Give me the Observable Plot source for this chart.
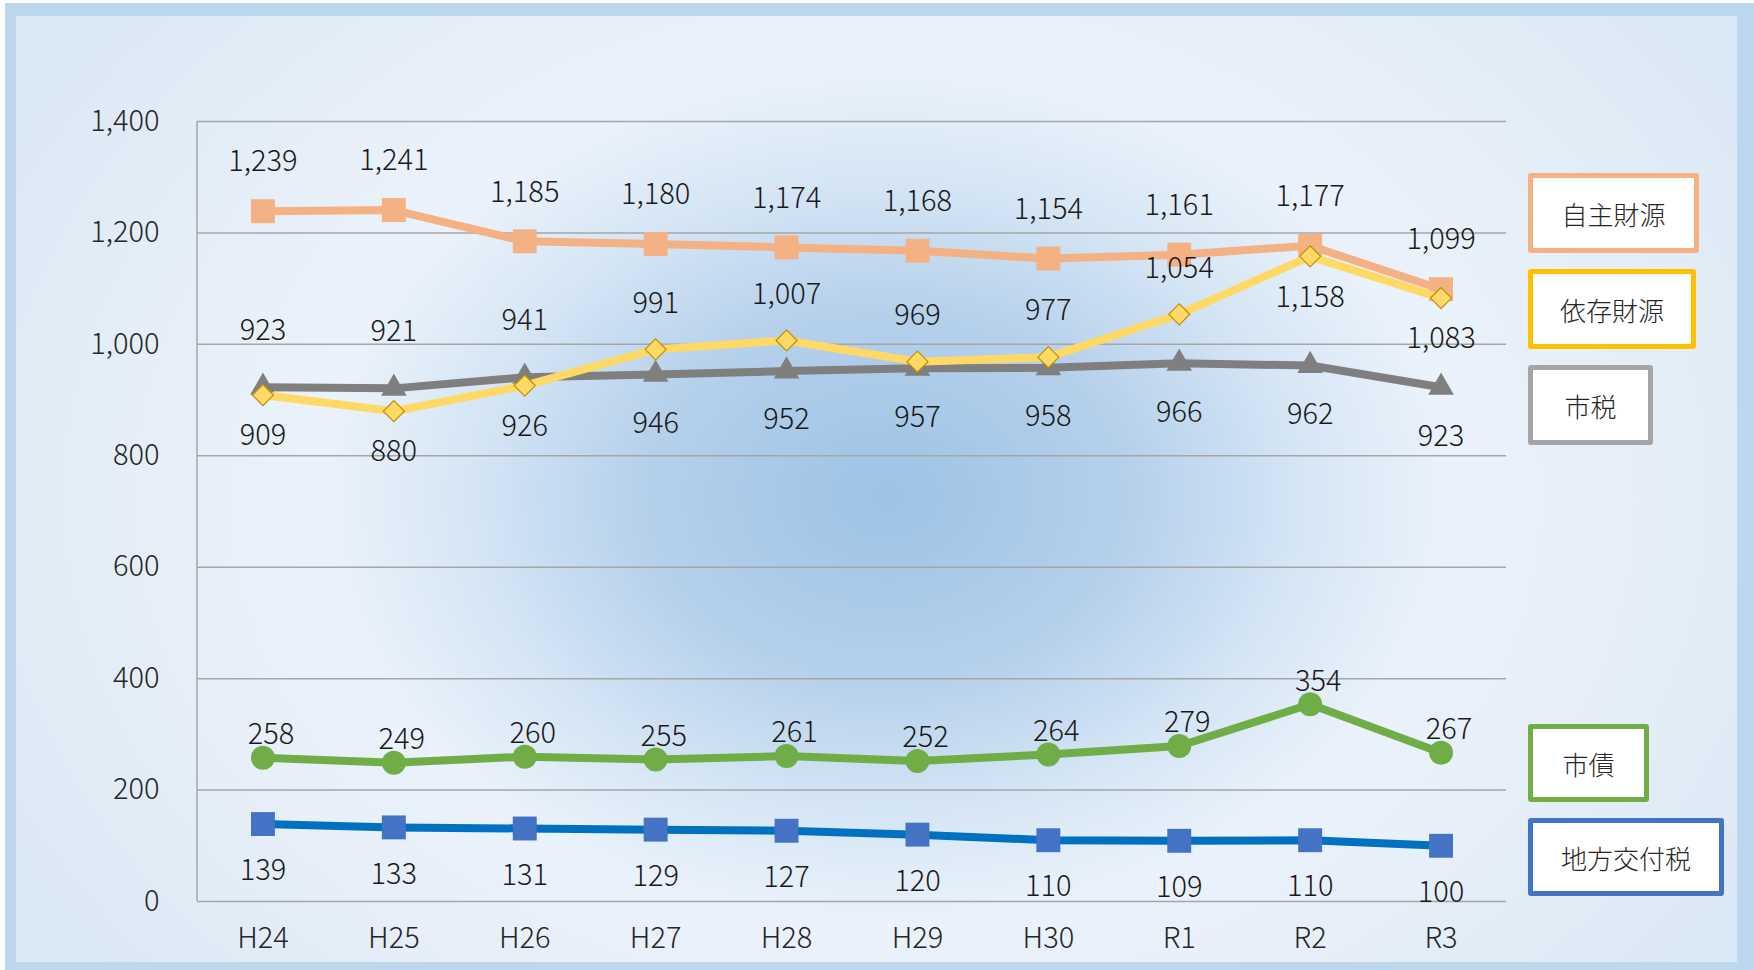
<!DOCTYPE html>
<html>
<head>
<meta charset="utf-8">
<script src="https://cdn.jsdelivr.net/npm/d3@7"></script>
<script src="https://cdn.jsdelivr.net/npm/@observablehq/plot@0.6"></script>
<style>
  html, body { margin: 0; padding: 0; background: #ffffff; }
  #frame {
    position: absolute; left: 5px; top: 3px; width: 1749px; height: 967px;
    background: #bdd7ee;
  }
  #panel {
    position: absolute; left: 16px; top: 16px; width: 1721px; height: 946px;
    background: radial-gradient(ellipse 1000px 760px at 870px 480px,
      #9dc3e6 0%, #b5d0eb 24%, #d6e6f5 42%, #eaf2fb 56%, #e6eff8 75%, #dbe8f5 100%);
  }
  #chart { position: absolute; left: 0; top: 0; width: 1754px; height: 970px; }
  #chart text { font-weight: 300; }
  .legend {
    position: absolute; box-sizing: border-box; background: #ffffff;
    border-width: 5px; border-style: solid; border-radius: 3px;
    display: flex; align-items: center; justify-content: center;
    font-family: "Noto Sans CJK JP", sans-serif; font-size: 26px; font-weight: 300; color: #262626;
  }
</style>
</head>
<body>
<div id="frame"></div>
<div id="panel"></div>
<div id="chart"></div>
<script>
// ---- data ----
const years = ["H24", "H25", "H26", "H27", "H28", "H29", "H30", "R1", "R2", "R3"];
const jishuZaigen = [1239, 1241, 1185, 1180, 1174, 1168, 1154, 1161, 1177, 1099]; // 自主財源
const izonZaigen  = [909, 880, 926, 991, 1007, 969, 977, 1054, 1158, 1083];      // 依存財源
const shizei      = [923, 921, 941, 946, 952, 957, 958, 966, 962, 923];          // 市税
const shisai      = [258, 249, 260, 255, 261, 252, 264, 279, 354, 267];          // 市債
const koufuzei    = [139, 133, 131, 129, 127, 120, 110, 109, 110, 100];          // 地方交付税
const yTicks = [0, 200, 400, 600, 800, 1000, 1200, 1400];

// label placement (above / below the point)
const izonLabelPos   = ["b", "b", "b", "a", "a", "a", "a", "a", "b", "b"];
const shizeiLabelPos = ["a", "a", "a", "b", "b", "b", "b", "b", "b", "b"];

// ---- styles ----
const series = [
  {name: "地方交付税", values: koufuzei, line: "#0070c0", fill: "#4472c4", stroke: "none", symbol: "square", r: 13.5,
   pos: years.map(() => "b"), above: -46, below: 47, dx: 0},
  {name: "市債", values: shisai, line: "#70ad47", fill: "#70ad47", stroke: "none", symbol: "circle", r: 12,
   pos: years.map(() => "a"), above: -23, below: 40, dx: 8},
  {name: "市税", values: shizei, line: "#7f7f7f", fill: "#7f7f7f", stroke: "none", symbol: "triangle", r: 9.5,
   pos: shizeiLabelPos, above: -57, below: 49, dx: 0},
  {name: "自主財源", values: jishuZaigen, line: "#f4b183", fill: "#f4b183", stroke: "none", symbol: "square", r: 13.5,
   pos: years.map(() => "a"), above: -49, below: 40, dx: 0},
  {name: "依存財源", values: izonZaigen, line: "#ffd966", fill: "#ffd966", stroke: "#bf9000", symbol: "diamond2", r: 9.5,
   pos: izonLabelPos, above: -46, below: 41, dx: 0}
];

const FONT = "'Noto Sans CJK JP', 'Noto Sans', sans-serif";
const fmt = d3.format(",");

const marks = [];
marks.push(Plot.ruleY(yTicks, {y: d => d, stroke: "#a6a6a6", strokeWidth: 1.5}));
// left axis line
marks.push((index, scales, values, dimensions) => {
  const {marginLeft, marginTop, height, marginBottom} = dimensions;
  const l = d3.create("svg:line")
    .attr("x1", marginLeft).attr("x2", marginLeft)
    .attr("y1", marginTop).attr("y2", height - marginBottom)
    .attr("stroke", "#a6a6a6").attr("stroke-width", 1.5);
  return l.node();
});

for (const s of series) {
  const rows = years.map((y, i) => ({year: y, value: s.values[i], pos: s.pos[i]}));
  marks.push(Plot.line(rows, {x: "year", y: "value", stroke: s.line, strokeWidth: 8, curve: "linear"}));
  marks.push(Plot.dot(rows, {x: "year", y: "value", symbol: s.symbol, r: s.r, fill: s.fill,
    stroke: s.stroke, strokeWidth: 1.2}));
}
for (const s of series) {
  const rows = years.map((y, i) => ({year: y, value: s.values[i], pos: s.pos[i]}));
  marks.push(Plot.text(rows.filter(d => d.pos === "a"), {x: "year", y: "value", text: d => fmt(d.value),
    dy: s.above, dx: s.dx, fontSize: 29, fill: "#1a1a1a"}));
  marks.push(Plot.text(rows.filter(d => d.pos === "b"), {x: "year", y: "value", text: d => fmt(d.value),
    dy: s.below, dx: s.dx, fontSize: 29, fill: "#1a1a1a"}));
}

const chart = Plot.plot({
  width: 1754,
  height: 970,
  marginLeft: 197,
  marginRight: 248,
  marginTop: 121,
  marginBottom: 69,
  style: {background: "transparent", fontFamily: FONT, fontSize: "29px", color: "#262626", overflow: "visible"},
  x: {type: "point", domain: years, padding: 0.5, round: false, label: null, tickSize: 0, tickPadding: 26},
  y: {domain: [0, 1400], ticks: yTicks, tickFormat: d => fmt(d), label: null, tickSize: 0, tickPadding: 38},
  marks
});
document.getElementById("chart").appendChild(chart);

// legend boxes
const legendBoxes = [
  {name: "自主財源", color: "#f4b183", left: 1528, top: 173, w: 171, h: 80},
  {name: "依存財源", color: "#ffc000", left: 1528, top: 269, w: 168, h: 80},
  {name: "市税", color: "#a5a5a5", left: 1528, top: 365, w: 125, h: 80},
  {name: "市債", color: "#70ad47", left: 1528, top: 724, w: 121, h: 78},
  {name: "地方交付税", color: "#4472c4", left: 1528, top: 818, w: 196, h: 78}
];
for (const b of legendBoxes) {
  const d = document.createElement("div");
  d.className = "legend";
  d.style.left = b.left + "px";
  d.style.top = b.top + "px";
  d.style.width = b.w + "px";
  d.style.height = b.h + "px";
  d.style.borderColor = b.color;
  d.textContent = b.name;
  document.body.appendChild(d);
}
</script>
</body>
</html>
